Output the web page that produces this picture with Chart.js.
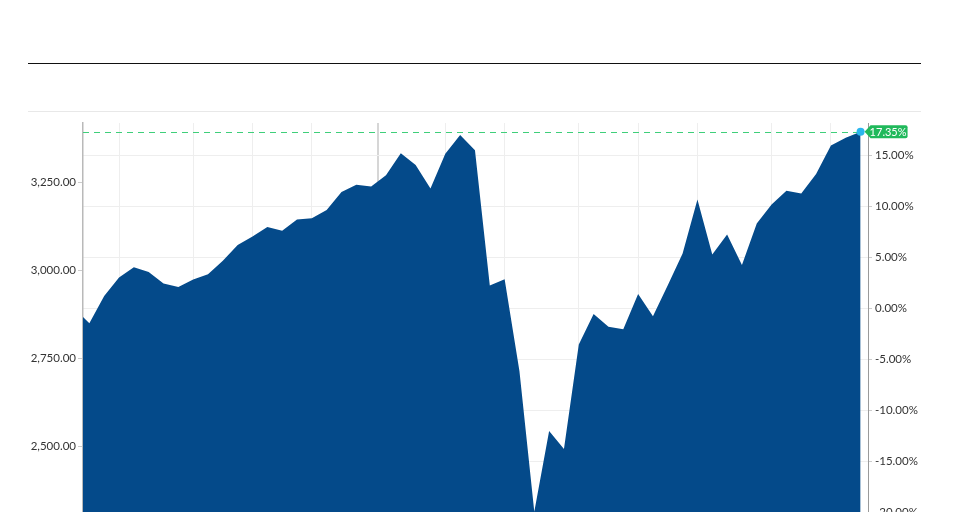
<!DOCTYPE html>
<html>
<head>
<meta charset="utf-8">
<script src="https://cdn.jsdelivr.net/npm/chart.js@4.4.1/dist/chart.umd.min.js"></script>
<style>
  html, body { margin: 0; padding: 0; background: #fff; overflow: hidden; }
  body { width: 961px; height: 512px; position: relative; }
  #topRule { position: absolute; left: 28px; top: 63px; width: 893px; height: 1px; background: #111; }
  #subRule { position: absolute; left: 28px; top: 111px; width: 893px; height: 1px; background: #e8e8e8; }
  #wrap { position: absolute; left: 0; top: 0; width: 961px; height: 620px; }
</style>
</head>
<body>
<div id="topRule"></div>
<div id="subRule"></div>
<div id="wrap"><canvas id="c" width="961" height="620"></canvas></div>
<script>
// ---- data (weekly closes) ----
const dates = [
  '2019-08-20','2019-08-23','2019-08-30','2019-09-06','2019-09-13','2019-09-20','2019-09-27',
  '2019-10-04','2019-10-11','2019-10-18','2019-10-25','2019-11-01','2019-11-08','2019-11-15',
  '2019-11-22','2019-11-29','2019-12-06','2019-12-13','2019-12-20','2019-12-27','2020-01-03',
  '2020-01-10','2020-01-17','2020-01-24','2020-01-31','2020-02-07','2020-02-14','2020-02-21',
  '2020-02-28','2020-03-06','2020-03-13','2020-03-20','2020-03-27','2020-04-03','2020-04-10',
  '2020-04-17','2020-04-24','2020-05-01','2020-05-08','2020-05-15','2020-05-22','2020-05-29',
  '2020-06-05','2020-06-12','2020-06-19','2020-06-26','2020-07-03','2020-07-10','2020-07-17',
  '2020-07-24','2020-07-31','2020-08-07','2020-08-14','2020-08-21'
];
const closes = [
  2868, 2850, 2927, 2980, 3009, 2995, 2963,
  2953, 2974, 2989, 3027, 3072, 3096, 3123,
  3112, 3144, 3148, 3171, 3222, 3243, 3238,
  3270, 3332, 3299, 3232, 3331, 3384, 3341,
  2957, 2975, 2714, 2315, 2544, 2493, 2790,
  2876, 2840, 2833, 2933, 2870, 2958, 3048,
  3201, 3045, 3102, 3015, 3133, 3187, 3226,
  3218, 3273, 3354, 3376, 3393
];
const priceTicks = [2250, 2500, 2750, 3000, 3250];
const pctTicks = [-25, -20, -15, -10, -5, 0, 5, 10, 15];
const gridDates = [
  '2019-09-06','2019-10-11','2019-11-08','2019-12-06','2020-01-06','2020-02-07',
  '2020-03-06','2020-04-10','2020-05-08','2020-06-05','2020-07-10','2020-08-07'
];
const yearBreakDate = '2020-01-06';
const changePct = 17.35;
const changeLabel = '17.35%';

// ---- helpers ----
const DAY = 86400000;
const t0 = Date.parse(dates[0] + 'T00:00:00Z');
const toDay = s => Math.round((Date.parse(s + 'T00:00:00Z') - t0) / DAY);
const points = dates.map((d, i) => ({ x: toDay(d), y: closes[i] }));
const gridDays = gridDates.map(toDay);
const yearBreakDay = toDay(yearBreakDate);
const lastClose = closes[closes.length - 1];
const basePrice = lastClose / (1 + changePct / 100);

const Y_MIN = 2150, Y_MAX = 3418;
const pct = v => (v / basePrice - 1) * 100;

const FONT = { family: 'Lato, "Open Sans", sans-serif', size: 11.5 };

const overlay = {
  id: 'overlay',
  afterDatasetsDraw(chart) {
    const { ctx, chartArea, scales } = chart;
    const last = points[points.length - 1];
    const px = scales.x.getPixelForValue(last.x);
    const py = scales.y.getPixelForValue(last.y);
    ctx.save();
    // dashed reference line
    ctx.strokeStyle = '#3fcf7a';
    ctx.lineWidth = 1;
    ctx.setLineDash([6, 5]);
    ctx.beginPath();
    ctx.moveTo(chartArea.left, Math.round(py) + 0.5);
    ctx.lineTo(px, Math.round(py) + 0.5);
    ctx.stroke();
    ctx.setLineDash([]);
    // last point marker
    ctx.fillStyle = '#2bb6ee';
    ctx.beginPath();
    ctx.arc(px, py, 4, 0, Math.PI * 2);
    ctx.fill();
    // tag
    const left = px + 4, right = px + 47, h = 13, r = 2;
    const top = py - h / 2, bot = py + h / 2;
    ctx.fillStyle = '#20b95b';
    ctx.beginPath();
    ctx.moveTo(left, py);
    ctx.lineTo(left + 6, top);
    ctx.lineTo(right - r, top);
    ctx.quadraticCurveTo(right, top, right, top + r);
    ctx.lineTo(right, bot - r);
    ctx.quadraticCurveTo(right, bot, right - r, bot);
    ctx.lineTo(left + 6, bot);
    ctx.closePath();
    ctx.fill();
    ctx.fillStyle = '#fff';
    ctx.font = '11px ' + FONT.family;
    ctx.textAlign = 'center';
    ctx.textBaseline = 'middle';
    ctx.fillText(changeLabel, (left + 6 + right) / 2 - 1, py + 0.5);
    ctx.restore();
  }
};

new Chart(document.getElementById('c'), {
  type: 'line',
  data: {
    datasets: [{
      data: points,
      fill: 'start',
      backgroundColor: '#044a8a',
      borderColor: '#044a8a',
      borderWidth: 0,
      pointRadius: 0,
      tension: 0,
      yAxisID: 'y'
    }]
  },
  options: {
    responsive: false,
    animation: false,
    devicePixelRatio: 1,
    layout: { padding: { top: 123, left: 0, right: 0, bottom: 0 } },
    plugins: { legend: { display: false }, tooltip: { enabled: false } },
    scales: {
      x: {
        type: 'linear',
        min: 0,
        max: 370.5,
        afterBuildTicks: s => { s.ticks = gridDays.map(v => ({ value: v })); },
        afterFit: s => { s.height = 50; },
        ticks: { display: false },
        border: { display: false },
        grid: {
          drawTicks: false,
          color: c => (c.tick && c.tick.value === yearBreakDay) ? '#d6d6d6' : '#eeeeee',
          lineWidth: c => (c.tick && c.tick.value === yearBreakDay) ? 2 : 1
        }
      },
      y: {
        position: 'left',
        min: Y_MIN,
        max: Y_MAX,
        afterBuildTicks: s => { s.ticks = priceTicks.map(v => ({ value: v })); },
        afterFit: s => { s.width = 83; },
        ticks: {
          padding: 2,
          color: '#333',
          font: FONT,
          callback: v => v.toLocaleString('en-US', { minimumFractionDigits: 2, maximumFractionDigits: 2 })
        },
        border: { display: true, color: '#b9b9b9', width: 1.5 },
        grid: { drawOnChartArea: false, tickLength: 5, color: '#cccccc' }
      },
      y2: {
        position: 'right',
        min: pct(Y_MIN),
        max: pct(Y_MAX),
        afterBuildTicks: s => { s.ticks = pctTicks.map(v => ({ value: v })); },
        afterFit: s => { s.width = 93; },
        ticks: {
          padding: 3,
          color: '#333',
          font: FONT,
          callback: v => v.toFixed(2) + '%'
        },
        border: { display: true, color: '#9a9a9a', width: 1 },
        grid: { color: '#eeeeee', tickColor: '#cccccc', tickLength: 4 }
      }
    }
  },
  plugins: [overlay]
});
</script>
</body>
</html>
